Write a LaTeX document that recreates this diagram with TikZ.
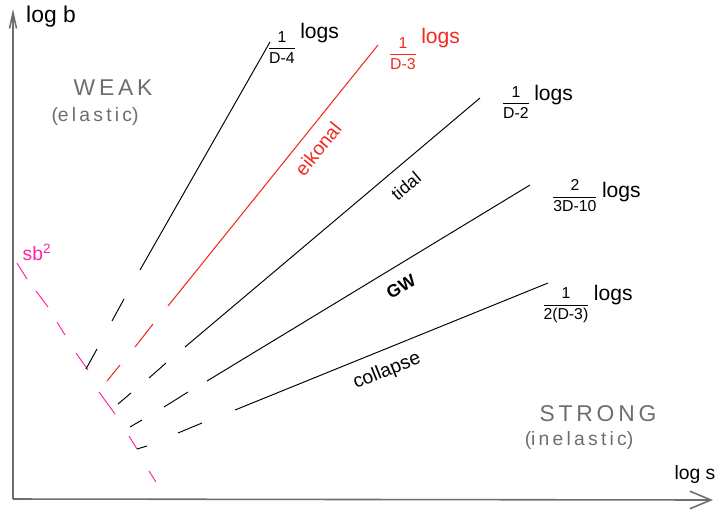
\documentclass[tikz,border=0pt]{standalone}
\usepackage{amsmath}
\usepackage{fontspec}
\setmainfont{Liberation Sans}
\usepackage{tikz}
\usetikzlibrary{arrows.meta}
\definecolor{SketchRed}{HTML}{F22A1E}
\definecolor{SketchPink}{HTML}{FF22A6}
\definecolor{SketchGray}{HTML}{6E6E6E}
\newcommand{\rate}[2]{{\fontsize{9}{10}\selectfont$\dfrac{\text{#1}}{\text{#2}}$}}

\begin{document}
\begin{tikzpicture}[
        x=0.02cm,y=-0.02cm,
        axis/.style={draw=SketchGray,line width=0.9pt},
        ray/.style={draw=black,line width=0.55pt},
        eik/.style={draw=SketchRed,line width=0.6pt},
        sbline/.style={draw=SketchPink,line width=0.55pt},
        regime/.style={text=SketchGray,font=\fontsize{13}{15}\selectfont},
        sub/.style={text=SketchGray,font=\fontsize{11}{13}\selectfont},
        tag/.style={inner sep=0pt,font=\fontsize{11}{13}\selectfont},
        rlabel/.style={inner sep=0pt,font=\fontsize{12}{14}\selectfont}
      ]
        \useasboundingbox (0,0) rectangle (717,512);
        % axes
        \coordinate (origin) at (13,499);
        \coordinate (btop) at (13,9);
        \coordinate (sright) at (713,500);
        \draw[axis,-{Straight Barb[length=9pt,width=4pt]}] (origin) -- (btop);
        \draw[axis,-{Straight Barb[length=12pt,width=10pt]}] (origin) -- (sright);
        \node[tag,font=\fontsize{13}{15}\selectfont] (logb) at (51,17) {log b};
        \node[tag,font=\fontsize{11}{13}\selectfont] (logs) at (695,474) {log s};
        % regimes
        \node[regime] (weak) at (113,88) {W\,E\,A\,K};
        \node[sub] (elastic) at (95,116) {(e\,l\,a\,s\,t\,i\,c)};
        \node[regime] (strong) at (598,414) {S\,T\,R\,O\,N\,G};
        \node[sub] (inelastic) at (579,440) {(i\,n\,e\,l\,a\,s\,t\,i\,c)};
        % sb^2 boundary
        \draw[sbline] (17,263) -- (27,279) (36,291) -- (48,307) (57,322) -- (65,335)
          (76,353) -- (88,370) (99,392) -- (115,414) (129,436) -- (137,449)
          (149,471) -- (156,482);
        \node[tag,text=SketchPink] (sb) at (37,252) {sb$^{\text{2}}$};
        % power-law lines
        \coordinate (top4) at (270,42);
        \coordinate (top3) at (378,45);
        \coordinate (top2) at (480,98);
        \coordinate (top10) at (530,185);
        \coordinate (top23) at (548,283);
        \draw[ray] (top4) -- (140,270) (124,299) -- (112,321) (97,349) -- (86,369);
        \draw[eik] (top3) -- (168,306) (153,324) -- (135,347) (120,365) -- (107,381);
        \draw[ray] (top2) -- (185,347) (166,363) -- (149,378) (131,393) -- (118,404);
        \draw[ray] (top10) -- (207,381) (188,392) -- (164,407) (142,420) -- (130,427);
        \draw[ray] (top23) -- (235,410) (202,423) -- (178,433) (147,446) -- (137,449);
        % rates
        \node[rlabel] (r4) at (303,43) {\rate{1}{D-4}\,\raisebox{1.3ex}{logs}};
        \node[rlabel,text=SketchRed] (r3) at (424,49) {\rate{1}{D-3}\,\raisebox{1.3ex}{logs}};
        \node[rlabel] (r2) at (537,102) {\rate{1}{D-2}\,\raisebox{0.6ex}{logs}};
        \node[rlabel] (r10) at (596,196) {\rate{2}{3D-10}\,\raisebox{0.3ex}{logs}};
        \node[rlabel] (r23) at (587,304) {\rate{1}{2(D-3)}\,\raisebox{0.8ex}{logs}};
        % process labels
        \node[tag,text=SketchRed,rotate=51] (eikonal) at (318,149) {eikonal};
        \node[tag,font=\fontsize{10}{12}\selectfont,rotate=40] (tidal) at (406,186) {tidal};
        \node[tag,font=\bfseries\fontsize{10}{12}\selectfont,rotate=30] (gw) at (401,287) {GW};
        \node[tag,rotate=22] (collapse) at (387,371) {collapse};
      \end{tikzpicture}
\end{document}
